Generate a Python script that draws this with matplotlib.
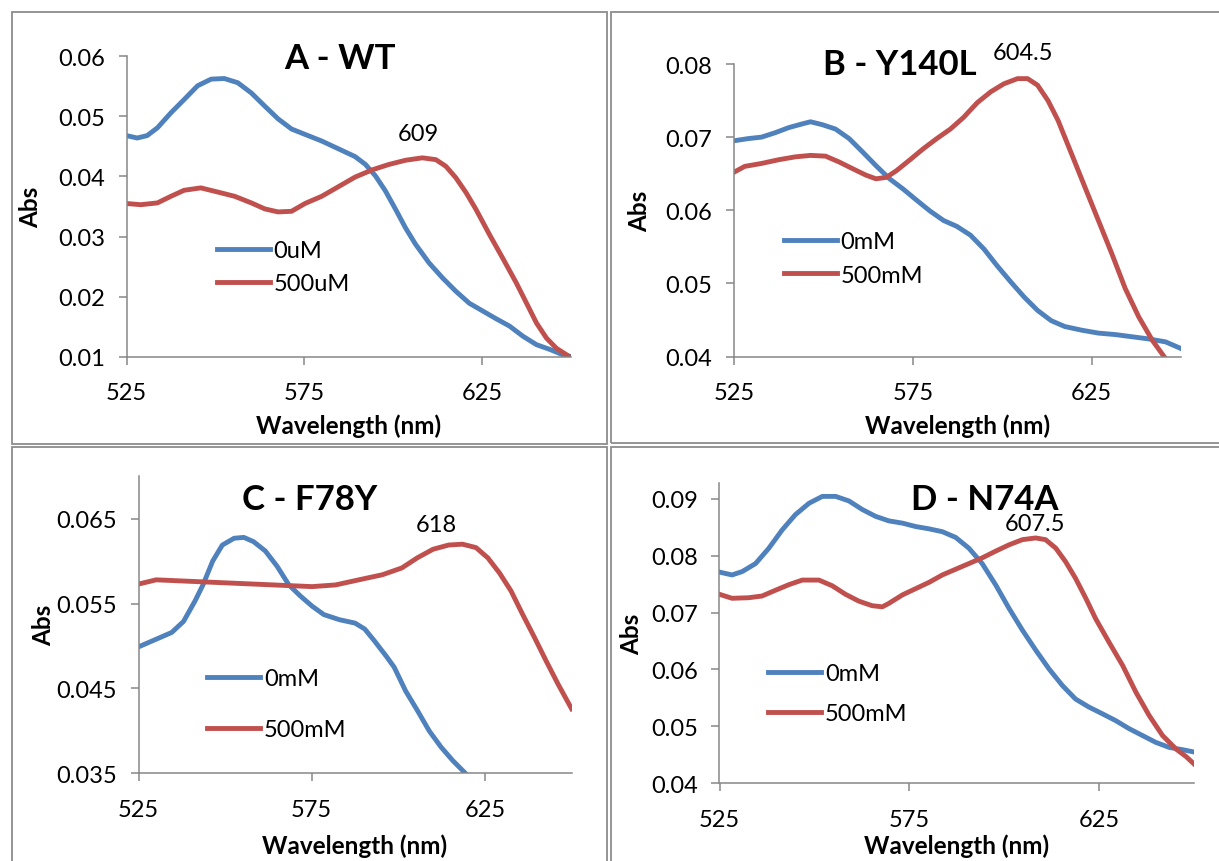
import matplotlib
matplotlib.use("Agg")
import matplotlib.pyplot as plt
from matplotlib.patches import Rectangle
from matplotlib.ticker import FormatStrFormatter

plt.rcParams["font.family"] = ["Lato", "DejaVu Sans"]

# ---------------- data ----------------
# A - WT
a_wl_0 = [525, 528, 530.8, 533.7, 537.5, 541.2, 545, 548.8, 552.5, 556.3, 560.1, 563.9,
          567.6, 571.4, 575.2, 579.9, 584.6, 589.3, 592.2, 595, 597.8, 600.7, 603.5, 606.3,
          610.1, 613.9, 617.6, 621.4, 625.2, 629, 632.7, 636.5, 640.3, 644.1, 647.8, 650.2]
a_abs_0 = [0.0468, 0.0464, 0.0468, 0.0481, 0.0506, 0.0528, 0.0551, 0.0562, 0.0563, 0.0556,
           0.0539, 0.0517, 0.0496, 0.0479, 0.0470, 0.0459, 0.0446, 0.0433, 0.0420, 0.0401,
           0.0376, 0.0345, 0.0314, 0.0287, 0.0256, 0.0231, 0.0209, 0.0189, 0.0176, 0.0163,
           0.0151, 0.0134, 0.0120, 0.0112, 0.0103, 0.0100]
a_wl_500 = [525, 529, 533.7, 537.5, 541.2, 545.9, 550.7, 555.4, 560.1, 563.9, 567.6, 571.4,
            575.2, 579.9, 584.6, 589.3, 594.1, 598.8, 603.5, 608.2, 612, 614.8, 617.6, 620.5,
            623.3, 627.1, 630.8, 634.6, 637.5, 640.3, 643.1, 645.9, 648.8, 650.7]
a_abs_500 = [0.0355, 0.0353, 0.0356, 0.0367, 0.0377, 0.0381, 0.0374, 0.0367, 0.0356, 0.0346,
             0.0341, 0.0342, 0.0355, 0.0367, 0.0383, 0.0399, 0.0411, 0.0420, 0.0427, 0.0431,
             0.0428, 0.0417, 0.0398, 0.0373, 0.0345, 0.0303, 0.0264, 0.0223, 0.0189, 0.0156,
             0.0131, 0.0114, 0.0103, 0.0095]

# B - Y140L
b_wl_0 = [525, 529, 532.7, 536.5, 540.3, 544, 546.4, 549.7, 553.4, 557.2, 560.9, 564.7,
          568.5, 572.3, 576, 579.8, 583.6, 587.3, 591.1, 594.9, 598.6, 602.4, 606.2, 609.9,
          613.7, 617.5, 622.2, 626.9, 631.6, 636.3, 641, 645.7, 650.4]
b_abs_0 = [0.0695, 0.0698, 0.0700, 0.0706, 0.0713, 0.0718, 0.0721, 0.0717, 0.0711, 0.0698,
           0.0680, 0.0661, 0.0643, 0.0629, 0.0614, 0.0599, 0.0586, 0.0578, 0.0566, 0.0547,
           0.0524, 0.0502, 0.0481, 0.0463, 0.0449, 0.0441, 0.0436, 0.0432, 0.0430, 0.0427,
           0.0424, 0.0420, 0.0410]
b_wl_500 = [525, 528, 532.7, 537.4, 542.1, 546.4, 550.6, 554.4, 558.1, 561.9, 564.7, 567.6,
            570.4, 574.2, 577.9, 581.7, 585.5, 589.2, 593, 596.8, 600.5, 604.3, 607.1, 609.9,
            612.8, 615.6, 619.4, 623.1, 626.9, 630.7, 634.4, 638.2, 642, 645.7]
b_abs_500 = [0.0652, 0.0660, 0.0664, 0.0669, 0.0673, 0.0675, 0.0674, 0.0666, 0.0657, 0.0648,
             0.0643, 0.0645, 0.0654, 0.0669, 0.0684, 0.0698, 0.0711, 0.0727, 0.0747, 0.0762,
             0.0773, 0.0780, 0.0780, 0.0771, 0.0750, 0.0723, 0.0677, 0.0632, 0.0586, 0.0540,
             0.0493, 0.0454, 0.0422, 0.0397]

# C - F78Y
c_wl_0 = [525, 530.1, 534.6, 538, 541.3, 543.6, 546.4, 549.2, 552.6, 555.4, 558.2, 561.6,
          565, 568.4, 571.7, 575.1, 578.5, 583, 587.5, 590.3, 593.1, 596.5, 598.8, 602.1,
          605.5, 608.9, 612.3, 615.7, 619.6, 621]
c_abs_0 = [0.0499, 0.0508, 0.0516, 0.0529, 0.0553, 0.0572, 0.0600, 0.0619, 0.0627, 0.0628,
           0.0623, 0.0612, 0.0594, 0.0572, 0.0559, 0.0547, 0.0537, 0.0531, 0.0527, 0.0520,
           0.0506, 0.0488, 0.0475, 0.0447, 0.0424, 0.0400, 0.0381, 0.0365, 0.0349, 0.0344]
c_wl_500 = [525, 530.1, 541.3, 552.6, 563.9, 575.1, 581.9, 588.6, 595.4, 601, 605.5, 610,
            614.5, 618.5, 622.4, 625.8, 629.2, 632.5, 635.9, 639.3, 642.7, 646.1, 650]
c_abs_500 = [0.0573, 0.0578, 0.0576, 0.0574, 0.0572, 0.0570, 0.0572, 0.0578, 0.0584, 0.0592,
             0.0604, 0.0614, 0.0619, 0.0620, 0.0616, 0.0604, 0.0586, 0.0565, 0.0537, 0.0510,
             0.0482, 0.0455, 0.0426]

# D - N74A
d_wl_0 = [525, 528.3, 531, 534.5, 538, 541.5, 545, 548.6, 552.1, 555.6, 559.1, 562.6, 566.1,
          569.6, 573.2, 576.7, 580.2, 583.7, 587.2, 590.7, 594.2, 597.8, 601.3, 604.8, 608.3,
          611.8, 615.3, 618.8, 622.3, 625.9, 629.4, 632.9, 636.4, 639.9, 643.5, 647, 650]
d_abs_0 = [0.0771, 0.0766, 0.0772, 0.0786, 0.0813, 0.0845, 0.0872, 0.0892, 0.0904, 0.0904,
           0.0896, 0.0881, 0.0869, 0.0861, 0.0857, 0.0851, 0.0847, 0.0842, 0.0832, 0.0813,
           0.0786, 0.0748, 0.0707, 0.0669, 0.0634, 0.0601, 0.0572, 0.0548, 0.0534, 0.0522,
           0.0510, 0.0496, 0.0484, 0.0472, 0.0463, 0.0459, 0.0455]
d_wl_500 = [525, 528.3, 532.7, 536.2, 539.7, 543.3, 546.8, 551.2, 554.7, 558.2, 561.7, 565.2,
            567.9, 569.6, 573.2, 576.7, 580.2, 583.7, 587.2, 590.7, 594.2, 597.8, 601.3,
            604.8, 608.3, 610.9, 613.6, 616.2, 618.8, 621.5, 624.1, 627.6, 631.2, 634.7,
            638.2, 641.7, 645.3, 647.9, 650]
d_abs_500 = [0.0732, 0.0725, 0.0726, 0.0729, 0.0739, 0.0749, 0.0757, 0.0757, 0.0747, 0.0732,
             0.0720, 0.0712, 0.0710, 0.0716, 0.0731, 0.0742, 0.0753, 0.0766, 0.0776, 0.0786,
             0.0796, 0.0808, 0.0819, 0.0828, 0.0831, 0.0828, 0.0813, 0.0789, 0.0760, 0.0725,
             0.0689, 0.0648, 0.0607, 0.0560, 0.0519, 0.0484, 0.0460, 0.0447, 0.0434]

titles = ["A - WT", "B - Y140L", "C - F78Y", "D - N74A"]
legend_labels = [("0uM", "500uM"), ("0mM", "500mM"), ("0mM", "500mM"), ("0mM", "500mM")]
peak_labels = ["609", "604.5", "618", "607.5"]
peak_wl = [609, 604.5, 618, 607.5]
peak_abs = [0.0431, 0.0780, 0.0620, 0.0830]
y_ticks = [[0.01, 0.02, 0.03, 0.04, 0.05, 0.06],
           [0.04, 0.05, 0.06, 0.07, 0.08],
           [0.035, 0.045, 0.055, 0.065],
           [0.04, 0.05, 0.06, 0.07, 0.08, 0.09]]
y_limits = [(0.01, 0.06), (0.04, 0.08), (0.035, 0.07), (0.04, 0.0927)]
x_ticks = [525, 575, 625]
x_limits = (525, 650)

series = [((a_wl_0, a_abs_0), (a_wl_500, a_abs_500)),
          ((b_wl_0, b_abs_0), (b_wl_500, b_abs_500)),
          ((c_wl_0, c_abs_0), (c_wl_500, c_abs_500)),
          ((d_wl_0, d_abs_0), (d_wl_500, d_abs_500))]

# ---------------- layout (pixels) ----------------
W, H, DPI = 1219, 862, 100
BLUE, RED = "#4F81BD", "#C0504D"
GRAY = "#878787"

# axes rectangles: left, top, right, bottom
axes_px = [(126.5, 57.3, 571, 357.7),
           (734, 65, 1181, 357.5),
           (138.5, 477.3, 571.6, 774.3),
           (719.5, 484.3, 1194, 784.3)]
# outer frames of each chart
frames_px = [(11.5, 12.7, 607, 445),
             (611, 12.7, 1230, 444),
             (11.5, 448, 607, 880),
             (611, 448, 1230, 880)]
title_px = [(340, 59), (900, 65), (310, 500), (985, 500)]
ylabel_x_px = [31, 640, 44, 632]
xlabel_y_px = [426, 426, 846, 846]
legend_px = [(216.5, 268), (783.6, 259.5), (206.8, 705), (768, 694.5)]
legend_spacing = [0.52, 0.52, 1.27, 0.8]
peak_offsets = [(-7, 24), (5, 26), (-24, 20), (2, 15)]
ytick_fmt = ["%.2f", "%.2f", "%.3f", "%.2f"]

fig = plt.figure(figsize=(W / DPI, H / DPI), dpi=DPI)


def fx(x):
    return x / W


def fy(y):
    return 1 - y / H


for (l, t, r, b) in frames_px:
    fig.patches.append(Rectangle((fx(l), fy(b)), fx(r) - fx(l), fy(t) - fy(b),
                                 transform=fig.transFigure, fill=False,
                                 edgecolor="#8c8c8c", linewidth=1.3, zorder=0))

FS = 17
LABEL_FS = 17.5
for i in range(4):
    l, t, r, b = axes_px[i]
    ax = fig.add_axes([fx(l), fy(b), fx(r) - fx(l), fy(t) - fy(b)])
    (w0, v0), (w5, v5) = series[i]
    h0, = ax.plot(w0, v0, color=BLUE, lw=3.5, solid_joinstyle="round")
    h5, = ax.plot(w5, v5, color=RED, lw=3.5, solid_joinstyle="round")
    ax.set_xlim(*x_limits)
    ax.set_ylim(*y_limits[i])
    ax.set_xticks(x_ticks)
    ax.set_yticks(y_ticks[i])
    ax.yaxis.set_major_formatter(FormatStrFormatter(ytick_fmt[i]))
    for s in ("top", "right"):
        ax.spines[s].set_visible(False)
    for s in ("left", "bottom"):
        ax.spines[s].set_color(GRAY)
        ax.spines[s].set_linewidth(1.1)
    ax.tick_params(direction="out", length=5.5, width=1.1, color=GRAY,
                   labelsize=FS, pad=10)
    ax.tick_params(axis="x", pad=13)
    ax.patch.set_alpha(0)

    ax.annotate(peak_labels[i], xy=(peak_wl[i], peak_abs[i]),
                xytext=peak_offsets[i], textcoords="offset pixels",
                ha="center", va="center", fontsize=FS)

    fig.text(fx(title_px[i][0]), fy(title_px[i][1]), titles[i], ha="center",
             va="center", fontsize=25, fontweight="bold")
    fig.text(fx(ylabel_x_px[i]), fy((t + b) / 2), "Abs", rotation=90, ha="center",
             va="center", fontsize=LABEL_FS, fontweight="bold")
    fig.text(fx((l + r) / 2), fy(xlabel_y_px[i]), "Wavelength (nm)", ha="center",
             va="center", fontsize=LABEL_FS, fontweight="bold")

    lx, ly = legend_px[i]
    ax.legend([h0, h5], list(legend_labels[i]), loc="center left",
              bbox_to_anchor=(fx(lx), fy(ly)), bbox_transform=fig.transFigure,
              frameon=False, fontsize=FS, handlelength=2.25, handletextpad=0.17,
              labelspacing=legend_spacing[i], borderpad=0, borderaxespad=0)

fig.savefig("out.png", dpi=DPI)
